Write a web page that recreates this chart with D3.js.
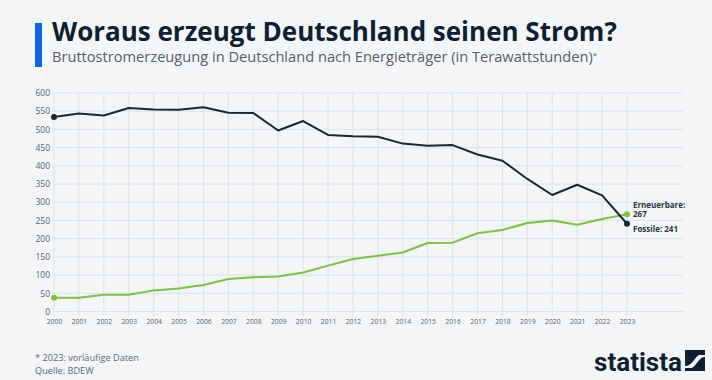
<!DOCTYPE html>
<html>
<head>
<meta charset="utf-8">
<script src="https://cdn.jsdelivr.net/npm/d3@7"></script>
<style>
  html, body { margin: 0; padding: 0; background: #f3f5f7; }
  svg { display: block; font-family: "Open Sans", sans-serif; }
</style>
</head>
<body>
<div id="chart"></div>
<script>
var years = d3.range(2000, 2024);
var fossile = [534, 544, 538, 559, 555, 554, 561, 546, 545, 497, 523, 485, 481, 480, 461, 455, 457, 431, 414, 364, 320, 348, 319, 241];
var erneuerbare = [38, 38, 46, 46, 58, 63, 73, 89, 94, 96, 107, 126, 144, 153, 162, 188, 189, 215, 224, 243, 250, 238, 254, 267];
var yTicks = [0, 50, 100, 150, 200, 250, 300, 350, 400, 450, 500, 550, 600];

var W = 712, H = 380;
var plotLeft = 54, plotRight = 627, gridRight = 683, plotTop = 93, plotBottom = 311.5;

var svg = d3.select("#chart").append("svg").attr("width", W).attr("height", H);
svg.append("rect").attr("width", W).attr("height", H).attr("fill", "#f3f5f7");

// fit text to a target width by changing the font size
function fit(sel, w) {
  var fs = parseFloat(sel.attr("font-size"));
  var len = sel.node().getComputedTextLength();
  sel.attr("font-size", (fs * w / len).toFixed(2));
}

// header
svg.append("rect").attr("x", 35).attr("y", 23).attr("width", 7).attr("height", 44).attr("fill", "#0a66e4");
var title = svg.append("text").attr("x", 52).attr("y", 40.5).attr("font-size", 24)
  .attr("font-weight", 700).attr("fill", "#0f1f33").text("Woraus erzeugt Deutschland seinen Strom?");
fit(title, 565);
var sub = svg.append("text").attr("x", 52).attr("y", 62).attr("font-size", 13).attr("fill", "#555f6b");
sub.append("tspan").text("Bruttostromerzeugung in Deutschland nach Energieträger (in Terawattstunden)");
sub.append("tspan").attr("font-size", 8).attr("dy", -4).text("*");
fit(sub, 546);

var x = d3.scaleLinear().domain([2000, 2023]).range([plotLeft, plotRight]);
var y = d3.scaleLinear().domain([0, 600]).range([plotBottom, plotTop]);

// grid
var g = svg.append("g");
g.selectAll("line.h").data(yTicks).enter().append("line")
  .attr("x1", plotLeft - 1).attr("x2", gridRight)
  .attr("y1", (d) => y(d)).attr("y2", (d) => y(d))
  .attr("stroke", "#dde2e8").attr("stroke-width", 1);
g.selectAll("line.v").data(years).enter().append("line")
  .attr("x1", (d) => x(d)).attr("x2", (d) => x(d))
  .attr("y1", plotTop).attr("y2", plotBottom + 5)
  .attr("stroke", "#dde2e8").attr("stroke-width", 1);

// axes
var yAxis = svg.append("g").attr("transform", "translate(" + (plotLeft - 4) + ",0)")
  .call(d3.axisLeft(y).tickValues(yTicks).tickSize(0).tickPadding(0));
yAxis.select(".domain").remove();
yAxis.selectAll("text").attr("font-size", 8.5).attr("fill", "#59636e").attr("font-family", "Open Sans");

var xAxis = svg.append("g").attr("transform", "translate(0," + (plotBottom + 8) + ")")
  .call(d3.axisBottom(x).tickValues(years).tickFormat(d3.format("d")).tickSize(0).tickPadding(0));
xAxis.select(".domain").remove();
xAxis.selectAll("text").attr("font-size", 6.8).attr("fill", "#59636e").attr("font-family", "Open Sans");

// lines
var line = (vals) => d3.line().x((d, i) => x(years[i])).y((d) => y(d))(vals);
svg.append("path").attr("d", line(erneuerbare)).attr("fill", "none")
  .attr("stroke", "#7dc242").attr("stroke-width", 2).attr("stroke-linejoin", "round");
svg.append("path").attr("d", line(fossile)).attr("fill", "none")
  .attr("stroke", "#1c2734").attr("stroke-width", 2).attr("stroke-linejoin", "round");

var n = years.length - 1;
[[erneuerbare, "#7dc242"], [fossile, "#1c2734"]].forEach(function (s) {
  [0, n].forEach(function (i) {
    svg.append("circle").attr("cx", x(years[i])).attr("cy", y(s[0][i])).attr("r", 3).attr("fill", s[1]);
  });
});

// end labels
var lab = svg.append("g").attr("font-size", 8).attr("font-weight", 700).attr("fill", "#2b3440");
lab.append("text").attr("x", x(2023) + 6).attr("y", y(erneuerbare[n]) - 6.5).text("Erneuerbare:");
lab.append("text").attr("x", x(2023) + 6).attr("y", y(erneuerbare[n]) + 3).text(erneuerbare[n]);
lab.append("text").attr("x", x(2023) + 6).attr("y", y(fossile[n]) + 8).text("Fossile: " + fossile[n]);

// footer
var f1 = svg.append("text").attr("x", 35).attr("y", 361).attr("font-size", 9.5).attr("fill", "#5d6670").text("* 2023: vorläufige Daten");
fit(f1, 104);
var f2 = svg.append("text").attr("x", 35).attr("y", 374).attr("font-size", f1.attr("font-size")).attr("fill", "#5d6670").text("Quelle: BDEW");

// logo
var logo = svg.append("text").attr("x", 594).attr("y", 371).attr("font-size", 27).attr("font-weight", 700)
  .attr("font-family", "Liberation Sans Narrow, Roboto, sans-serif").attr("fill", "#0f1f33").text("statista");
fit(logo, 88);
svg.append("rect").attr("x", 685).attr("y", 350).attr("width", 20).attr("height", 21).attr("fill", "#0f1f33");
svg.append("path").attr("d", "M685,366 C692,366 694,358 699,355 L705,355 L705,357 C699,357 697,365 692,368 L685,368 Z")
  .attr("fill", "#f3f5f7");
</script>
</body>
</html>
